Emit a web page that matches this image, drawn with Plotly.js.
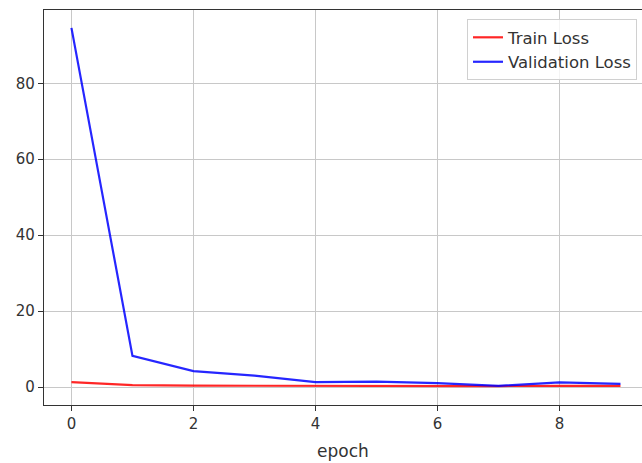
<!DOCTYPE html>
<html><head><meta charset="utf-8">
<script src="https://cdn.plot.ly/plotly-3.0.1.min.js"></script>
<style>html,body{margin:0;padding:0;background:#fff}#c{width:642px;height:463px}</style>
</head><body><div id="c"></div>
<script>
const epochs = [0,1,2,3,4,5,6,7,8,9];
const trainLoss = [1.3,0.5,0.35,0.3,0.3,0.3,0.3,0.25,0.3,0.3];
const valLoss = [94.6,8.2,4.2,3.0,1.3,1.4,1.0,0.3,1.2,0.8];
const xTicks = [0,2,4,6,8];
const yTicks = [0,20,40,60,80];

const traces = [
  {x: epochs, y: trainLoss, name: 'Train Loss', mode: 'lines', line: {color: 'rgba(255,0,0,0.85)', width: 2.2}},
  {x: epochs, y: valLoss, name: 'Validation Loss', mode: 'lines', line: {color: 'rgba(0,0,255,0.85)', width: 2.2}}
];
const tickFont = {family: 'DejaVu Sans, sans-serif', size: 15, color: '#333'};
const textFont = {family: 'DejaVu Sans, sans-serif', size: 17, color: '#333'};
const legFont = {family: 'DejaVu Sans, sans-serif', size: 16.5, color: '#333'};
const layout = {
  width: 642, height: 463,
  margin: {l: 44, r: 0, t: 10, b: 58},
  paper_bgcolor: '#fff', plot_bgcolor: '#fff',
  font: tickFont,
  showlegend: true,
  legend: {x: 0.9916, y: 0.977, xanchor: 'right', yanchor: 'top', bgcolor: 'rgba(255,255,255,0.8)', bordercolor: '#d0d0d0', borderwidth: 1, font: legFont},
  xaxis: {range: [-0.45, 9.353], tickvals: xTicks, ticktext: xTicks.map(String), showgrid: true, gridcolor: '#c8c8c8', gridwidth: 1,
    zeroline: false, showline: true, linecolor: '#333', linewidth: 1.2, mirror: true, ticks: 'outside', ticklen: 5, tickcolor: '#333',
    tickfont: tickFont, title: {text: 'epoch', font: textFont, standoff: 12}},
  yaxis: {range: [-4.74, 99.3], tickvals: yTicks, ticktext: yTicks.map(String), showgrid: true, gridcolor: '#c8c8c8', gridwidth: 1,
    zeroline: false, showline: true, linecolor: '#333', linewidth: 1.2, mirror: true, ticks: 'outside', ticklen: 5, tickcolor: '#333',
    tickfont: tickFont}
};
Plotly.newPlot('c', traces, layout, {displayModeBar: false, staticPlot: true});
</script></body></html>
